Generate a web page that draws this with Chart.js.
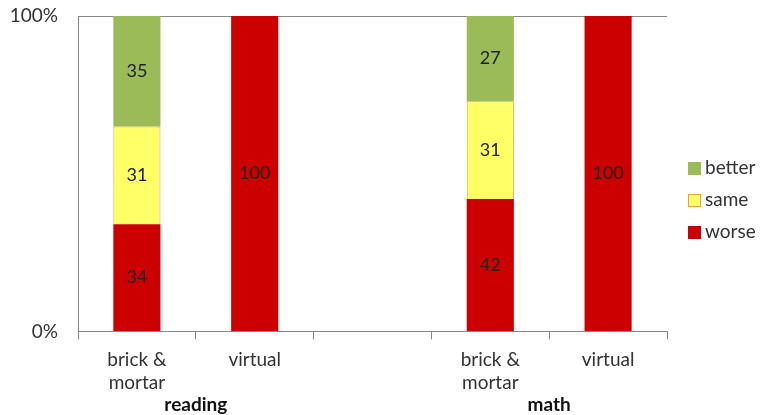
<!DOCTYPE html>
<html>
<head>
<meta charset="utf-8">
<script src="https://cdn.jsdelivr.net/npm/chart.js@4/dist/chart.umd.min.js"></script>
<style>
  html, body { margin: 0; padding: 0; background: #fff; }
  #wrap { width: 760px; height: 415px; }
</style>
</head>
<body>
<div id="wrap"><canvas id="chart" width="760" height="415"></canvas></div>
<script>
const categories = [['brick &', 'mortar'], 'virtual', '', ['brick &', 'mortar'], 'virtual'];
const groups = [
  { label: 'reading', from: 0, to: 1 },
  { label: 'math', from: 3, to: 4 }
];
const worse = [34, 100, null, 42, 100];
const same = [31, null, null, 31, null];
const better = [35, null, null, 27, null];
const yTicks = [0, 100];

const FONT = 'Lato, "Open Sans", sans-serif';

// numbers in the middle of each segment
const segmentLabels = {
  id: 'segmentLabels',
  afterDatasetsDraw(chart) {
    const ctx = chart.ctx;
    ctx.save();
    ctx.font = '18px ' + FONT;
    ctx.fillStyle = '#222';
    ctx.textAlign = 'center';
    ctx.textBaseline = 'middle';
    chart.data.datasets.forEach((ds, i) => {
      chart.getDatasetMeta(i).data.forEach((bar, j) => {
        const v = ds.data[j];
        if (v == null) return;
        ctx.fillText(v, bar.x, (bar.y + bar.base) / 2);
      });
    });
    ctx.restore();
  }
};

// bold group names under the category labels
const groupLabels = {
  id: 'groupLabels',
  afterDraw(chart) {
    const ctx = chart.ctx;
    const x = chart.scales.x;
    ctx.save();
    ctx.font = 'bold 19px ' + FONT;
    ctx.fillStyle = '#111';
    ctx.textAlign = 'center';
    ctx.textBaseline = 'middle';
    groups.forEach(g => {
      const cx = (x.getPixelForValue(g.from) + x.getPixelForValue(g.to)) / 2;
      ctx.fillText(g.label, cx, 405);
    });
    ctx.restore();
  }
};

// legend at the right, top series first
const sideLegend = {
  id: 'sideLegend',
  afterDraw(chart) {
    const ctx = chart.ctx;
    const area = chart.chartArea;
    const items = chart.data.datasets.slice().reverse();
    const step = 32;
    const x0 = area.right + 21;
    const y0 = 200 - step * (items.length - 1) / 2;
    ctx.save();
    ctx.font = '19px ' + FONT;
    ctx.textBaseline = 'middle';
    items.forEach((ds, i) => {
      const y = y0 + i * step;
      ctx.fillStyle = ds.backgroundColor;
      ctx.fillRect(x0, y - 6, 13, 13);
      if (ds.borderWidth) {
        ctx.strokeStyle = ds.borderColor;
        ctx.lineWidth = 1;
        ctx.strokeRect(x0 + 0.5, y - 5.5, 12, 12);
      }
      ctx.fillStyle = '#333';
      ctx.fillText(ds.label, x0 + 17, y);
    });
    ctx.restore();
  }
};

new Chart(document.getElementById('chart'), {
  type: 'bar',
  data: {
    labels: categories,
    datasets: [
      { label: 'worse', data: worse, backgroundColor: '#cc0000', borderWidth: 0 },
      { label: 'same', data: same, backgroundColor: '#ffff66', borderColor: '#f0a030', borderWidth: 1 },
      { label: 'better', data: better, backgroundColor: '#9bbb59', borderWidth: 0 }
    ]
  },
  options: {
    responsive: false,
    animation: false,
    layout: { padding: { top: 16, right: 93, bottom: 12, left: 0 } },
    datasets: { bar: { barPercentage: 0.4, categoryPercentage: 1 } },
    scales: {
      x: {
        stacked: true,
        grid: { offset: true, drawOnChartArea: false, color: '#888', tickLength: 8 },
        border: { color: '#888' },
        ticks: { color: '#333', font: { family: FONT, size: 19 }, padding: 9, maxRotation: 0 }
      },
      y: {
        stacked: true,
        min: 0,
        max: 100,
        afterBuildTicks(axis) { axis.ticks = yTicks.map(v => ({ value: v })); },
        afterFit(axis) {
          axis.width = 78;
          axis.paddingTop = 0;
          axis.paddingBottom = 0;
        },
        grid: { color: '#888', drawTicks: false },
        border: { color: '#888' },
        ticks: {
          color: '#333',
          font: { family: FONT, size: 19 },
          padding: 20,
          callback: v => v + '%'
        }
      }
    },
    plugins: {
      legend: { display: false },
      tooltip: { enabled: false }
    }
  },
  plugins: [segmentLabels, groupLabels, sideLegend]
});
</script>
</body>
</html>
